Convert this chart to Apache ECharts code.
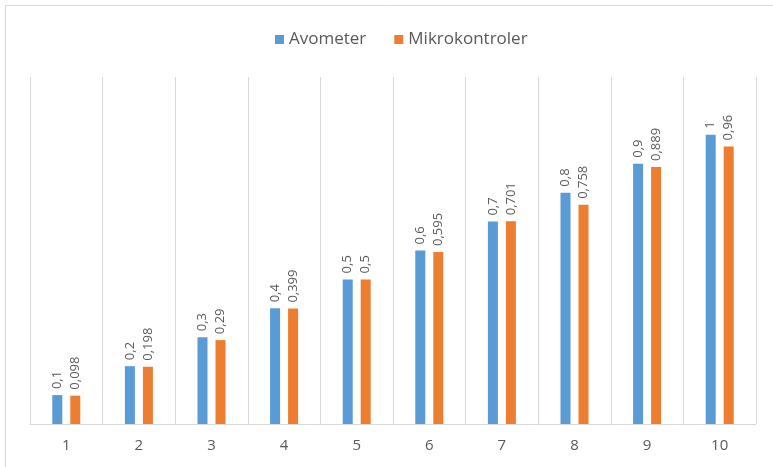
<!DOCTYPE html>
<html>
<head>
<meta charset="utf-8">
<script src="https://cdn.jsdelivr.net/npm/echarts@6/dist/echarts.min.js"></script>
<style>
  html, body { margin: 0; padding: 0; background: #fff; }
  #chart { width: 773px; height: 467px; }
</style>
</head>
<body>
<div id="chart"></div>
<script>
// Measurement categories and readings
const categories = ['1', '2', '3', '4', '5', '6', '7', '8', '9', '10'];
const avometer = [0.1, 0.2, 0.3, 0.4, 0.5, 0.6, 0.7, 0.8, 0.9, 1];
const mikrokontroler = [0.098, 0.198, 0.29, 0.399, 0.5, 0.595, 0.701, 0.758, 0.889, 0.96];

const textColor = '#595959';
const gridColor = '#D9D9D9';

const fmt = p => String(p.value).replace('.', ',');

const barLabel = {
  show: true,
  position: 'top',
  rotate: 90,
  align: 'left',
  verticalAlign: 'middle',
  distance: 6,
  color: textColor,
  fontFamily: 'Open Sans',
  fontSize: 13,
  formatter: fmt
};

const chart = echarts.init(document.getElementById('chart'));
chart.setOption({
  animation: false,
  backgroundColor: '#fff',
  graphic: [{
    type: 'rect',
    shape: { x: 5.5, y: 5.5, width: 780, height: 480 },
    style: { fill: 'none', stroke: '#D9D9D9', lineWidth: 1 },
    silent: true
  }],
  legend: {
    top: 26,
    left: 270,
    itemWidth: 9,
    itemHeight: 9,
    itemGap: 28,
    icon: 'rect',
    textStyle: { color: textColor, fontSize: 17, fontFamily: 'Open Sans' },
    data: ['Avometer', 'Mikrokontroler']
  },
  grid: { left: 30, right: 17, top: 77, bottom: 43 },
  xAxis: {
    type: 'category',
    data: categories,
    axisLine: { lineStyle: { color: gridColor } },
    axisTick: { show: false },
    axisLabel: { color: textColor, fontSize: 15, fontFamily: 'Open Sans', margin: 14 },
    splitLine: { show: true, lineStyle: { color: gridColor } }
  },
  yAxis: {
    type: 'value',
    min: 0,
    max: 1.2,
    show: false,
    splitLine: { show: false }
  },
  series: [
    {
      name: 'Avometer',
      type: 'bar',
      data: avometer,
      barWidth: 10,
      barGap: '80%',
      itemStyle: { color: '#5B9BD5' },
      label: barLabel
    },
    {
      name: 'Mikrokontroler',
      type: 'bar',
      data: mikrokontroler,
      barWidth: 10,
      itemStyle: { color: '#ED7D31' },
      label: barLabel
    }
  ]
});
</script>
</body>
</html>
